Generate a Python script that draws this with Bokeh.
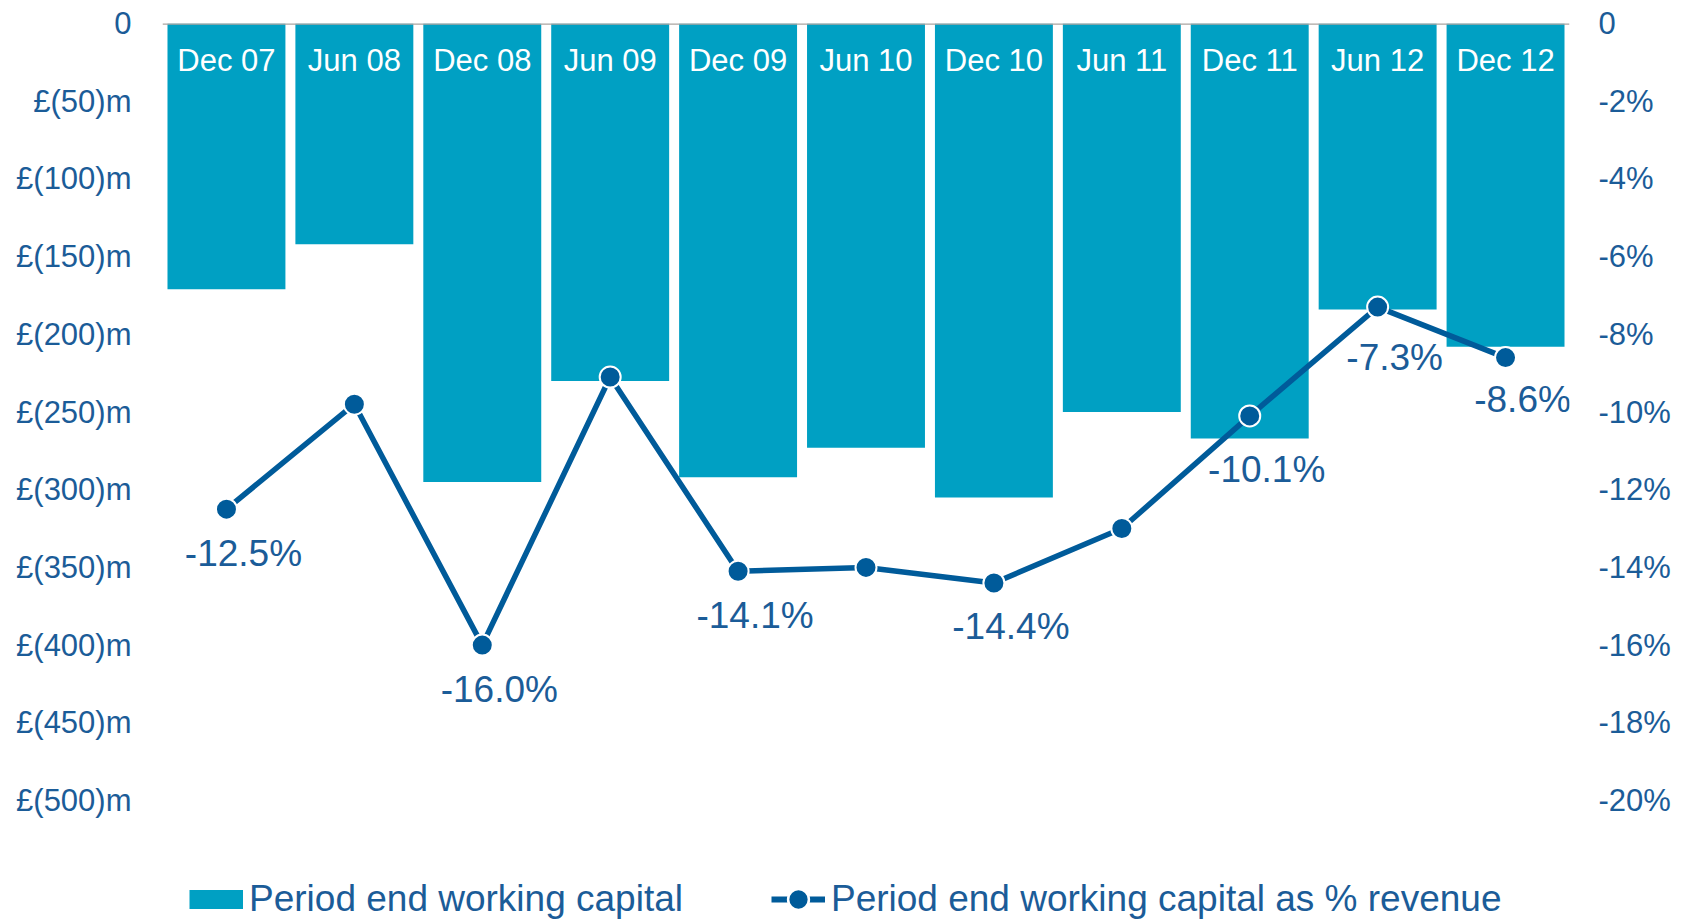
from bokeh.plotting import figure
from bokeh.models import (ColumnDataSource, Range1d, LinearAxis, FixedTicker, Span,
                          Legend, LegendItem)
from bokeh.core.properties import value
from bokeh.embed import file_html
from bokeh.resources import INLINE

# ---- data ----
categories = ["Dec 07", "Jun 08", "Dec 08", "Jun 09", "Dec 09", "Jun 10",
              "Dec 10", "Jun 11", "Dec 11", "Jun 12", "Dec 12"]
working_capital = [-171, -142, -295, -230, -292, -273, -305, -250, -267, -184, -208]
pct_revenue = [-12.5, -9.8, -16.0, -9.1, -14.1, -14.0, -14.4, -13.0, -10.1, -7.3, -8.6]
labelled = ["Dec 07", "Dec 08", "Dec 09", "Dec 10", "Dec 11", "Jun 12", "Dec 12"]
left_ticks = [0, -50, -100, -150, -200, -250, -300, -350, -400, -450, -500]
right_ticks = [0, -2, -4, -6, -8, -10, -12, -14, -16, -18, -20]

# ---- styles ----
BAR = "#00a0c3"
LINE = "#005b9a"
TXT = "#1b5c98"
FONT = "Liberation Sans"

W, H = 1686, 922
TOP, LEFT, RIGHT = 23, 162, 1569
PX_PER_UNIT = 777 / 500.0
Y_MIN = -(H - TOP) / PX_PER_UNIT
PCT_MIN = Y_MIN / 25.0

p = figure(x_range=categories, y_range=Range1d(Y_MIN, 0),
           width=W, height=H, output_backend="svg", toolbar_location=None,
           min_border_left=LEFT, min_border_right=W - RIGHT, min_border_top=TOP,
           min_border_bottom=0)
p.extra_y_ranges = {"pct": Range1d(PCT_MIN, 0)}
p.outline_line_color = None
p.grid.visible = False
p.xaxis.visible = False
p.x_range.range_padding = 0

# left axis
lax = p.yaxis[0]
lax.ticker = FixedTicker(ticks=left_ticks)
lax.major_label_overrides = {t: ("0" if t == 0 else "£(%d)m" % (-t)) for t in left_ticks}
lax.axis_line_color = None
lax.major_tick_line_color = None
lax.minor_tick_line_color = None
lax.major_label_text_font = FONT
lax.major_label_text_font_size = "31px"
lax.major_label_text_color = TXT
lax.major_label_standoff = 25

rax = LinearAxis(y_range_name="pct", ticker=FixedTicker(ticks=right_ticks))
rax.major_label_overrides = {t: ("0" if t == 0 else "%d%%" % t) for t in right_ticks}
rax.axis_line_color = None
rax.major_tick_line_color = None
rax.minor_tick_line_color = None
rax.major_label_text_font = FONT
rax.major_label_text_font_size = "31px"
rax.major_label_text_color = TXT
rax.major_label_standoff = 23
p.add_layout(rax, "right")

src = ColumnDataSource(dict(cat=categories, wc=working_capital, pct=pct_revenue,
                            zero=[0] * len(categories)))

bars = p.vbar(x="cat", top="zero", bottom="wc", width=0.922, source=src,
              fill_color=BAR, line_color=None)

p.add_layout(Span(location=0, dimension="width", line_color="#aaa5a1", line_width=2.5))

# category labels inside bars
p.text(x="cat", y="zero", text="cat", source=src, text_color="white",
       text_font=value(FONT), text_font_size="31px", text_align="center",
       text_baseline="middle", y_offset=37)

ln = p.line(x="cat", y="pct", source=src, y_range_name="pct",
            line_color=LINE, line_width=5.5)
mk = p.scatter(x="cat", y="pct", source=src, y_range_name="pct", size=21,
               fill_color=LINE, line_color="white", line_width=2)

# value labels
lab_idx = [categories.index(c) for c in labelled]
dy = {"Dec 11": 54, "Jun 12": 50, "Dec 12": 42}
lsrc = ColumnDataSource(dict(
    cat=[categories[i] for i in lab_idx],
    pct=[pct_revenue[i] for i in lab_idx],
    txt=["%.1f%%" % pct_revenue[i] for i in lab_idx],
    dy=[dy.get(categories[i], 44) for i in lab_idx],
))
p.text(x="cat", y="pct", text="txt", source=lsrc, y_range_name="pct",
       text_color=TXT, text_font=value(FONT), text_font_size="37px",
       text_align="center", text_baseline="middle", x_offset=17, y_offset="dy")

# legend proxies (undrawn NaN point): a thick butt-capped line acts as the bar swatch
nan = float("nan")
psrc = ColumnDataSource(dict(x=[categories[0]], y=[nan]))
bar_proxy = p.line(x="x", y="y", source=psrc, line_color=BAR, line_width=19, line_cap="butt")
ln_proxy = p.line(x="x", y="y", source=psrc, line_color=LINE, line_width=6, line_cap="butt")
mk_proxy = p.scatter(x="x", y="y", source=psrc, fill_color=LINE, line_color="white",
                     line_width=2.5)

legend = Legend(items=[
    LegendItem(label="Period end working capital", renderers=[bar_proxy]),
    LegendItem(label="Period end working capital as % revenue", renderers=[ln_proxy, mk_proxy]),
], location=(27, H - 899 - 26), orientation="horizontal")
legend.border_line_color = None
legend.background_fill_alpha = 0
legend.padding = 0
legend.margin = 0
legend.spacing = 88
legend.glyph_width = 54
legend.glyph_height = 52
legend.label_standoff = 6
legend.label_text_font = FONT
legend.label_text_font_size = "37px"
legend.label_text_color = TXT
legend.label_text_baseline = "middle"
p.add_layout(legend, "center")

html = file_html(p, INLINE)
open("out.html", "w").write(html)
